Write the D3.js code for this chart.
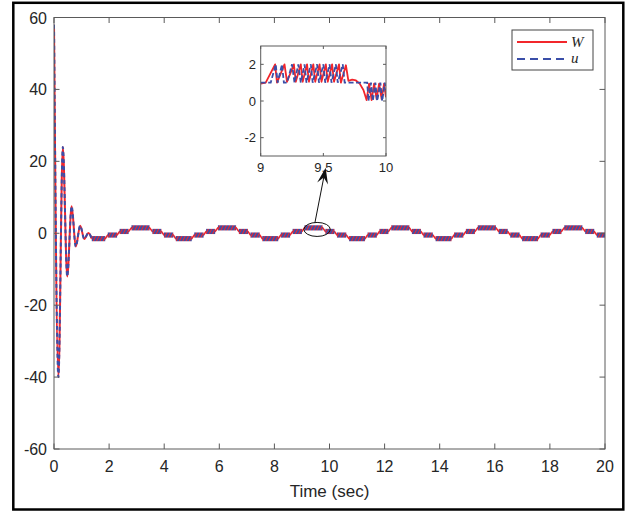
<!DOCTYPE html>
<html>
<head>
<meta charset="utf-8">
<script src="https://cdn.jsdelivr.net/npm/d3@7"></script>
<style>
  body { margin: 0; background: #fff; }
  svg { display: block; }
  .tick-label { font-family: "Liberation Sans", Arial, sans-serif; fill: #262626; }
  .legend-text { font-family: "Liberation Serif", "Times New Roman", serif; font-style: italic; fill: #262626; }
</style>
</head>
<body>
<svg id="chart" width="636" height="512"></svg>
<script>
// --- data ---
// start-up transient (sec, value)
const transT = [0, 0.16, 0.32, 0.48, 0.64, 0.79, 0.95, 1.10, 1.25, 1.37];
const transY = [58, -40, 24, -12, 7.5, -3.7, 2.1, -1.6, 0.1, -1.5];

// chattering bands: signal switches between level and level+1 from start to end
const bandStart = [1.37, 1.95, 2.38, 2.81, 3.57, 3.99, 4.42, 5.09, 5.52, 5.95, 6.71, 7.13,
                   7.56, 8.23, 8.66, 9.09, 9.85, 10.27, 10.71, 11.38, 11.81, 12.24, 12.99, 13.41,
                   13.85, 14.52, 14.95, 15.38, 16.14, 16.56, 16.99, 17.66, 18.09, 18.52, 19.28, 19.70];
const bandEnd   = [1.86, 2.29, 2.71, 3.47, 3.90, 4.33, 5.00, 5.43, 5.85, 6.61, 7.04, 7.47,
                   8.14, 8.57, 9.00, 9.75, 10.18, 10.61, 11.29, 11.72, 12.14, 12.90, 13.32, 13.75,
                   14.43, 14.86, 15.28, 16.04, 16.47, 16.90, 17.57, 18.00, 18.42, 19.18, 19.61, 20.0];
const bandLevel = [-2, -1, 0, 1, 0, -1, -2, -1, 0, 1, 0, -1,
                   -2, -1, 0, 1, 0, -1, -2, -1, 0, 1, 0, -1,
                   -2, -1, 0, 1, 0, -1, -2, -1, 0, 1, 0, -1];

// zoomed window 9..10 s
const zoomWT = [9.00, 9.04, 9.115, 9.13, 9.19, 9.21, 9.265, 9.28, 9.32, 9.335, 9.37, 9.385, 9.42, 9.435,
                9.47, 9.485, 9.52, 9.535, 9.57, 9.585, 9.625, 9.64, 9.68, 9.70, 9.73, 9.76, 9.79, 9.82,
                9.845, 9.865, 9.885, 9.905, 9.925, 9.945, 9.965, 9.985, 10.0];
const zoomWY = [0.95, 1.0, 2.0, 1.0, 2.0, 1.05, 2.0, 1.05, 2.0, 1.05, 2.0, 1.05, 2.0, 1.05,
                2.0, 1.05, 2.0, 1.05, 2.0, 1.05, 2.0, 1.0, 1.95, 1.1, 1.17, 1.12, 0.95, 0.6,
                0.05, 0.95, 0.05, 0.95, 0.1, 0.95, 0.1, 0.95, 0.2];
const zoomUT = [9.00, 9.08, 9.12, 9.135, 9.17, 9.185, 9.21, 9.25, 9.27, 9.30, 9.32, 9.35, 9.365, 9.40,
                9.415, 9.45, 9.465, 9.50, 9.515, 9.55, 9.565, 9.60, 9.615, 9.655, 9.67, 9.85, 9.86,
                9.88, 9.895, 9.915, 9.93, 9.955, 9.97, 9.99, 10.0];
const zoomUY = [1.0, 1.0, 2.0, 1.0, 2.0, 1.0, 1.0, 2.0, 1.0, 2.0, 1.0, 2.0, 1.0, 2.0,
                1.0, 2.0, 1.0, 2.0, 1.0, 2.0, 1.0, 2.0, 1.0, 2.0, 1.0, 1.0, 0.0,
                1.0, 0.0, 1.0, 0.0, 1.0, 0.0, 1.0, 0.6];

const xTicks = [0, 2, 4, 6, 8, 10, 12, 14, 16, 18, 20];
const yTicks = [-60, -40, -20, 0, 20, 40, 60];
const zoomXTicks = [9, 9.5, 10];
const zoomYTicks = [-2, 0, 2];
const seriesNames = ["W", "u"];

// ellipse round the zoomed spot, and the arrow to the inset (data units)
const markCenter = [9.55, 1.06], markRadius = [0.48, 1.95];
const arrowFrom = [9.47, 2.9], arrowTo = [9.86, 18.2];

const RED = "#f2262b", BLUE = "#3a4ea8", AXIS = "#5a5a5a";

const svg = d3.select("#chart");
const x = d3.scaleLinear().domain([0, 20]).range([54, 605]);
const y = d3.scaleLinear().domain([-60, 60]).range([449, 17.5]);

const defs = svg.append("defs");
defs.append("clipPath").attr("id", "plotClip")
  .append("rect").attr("x", 54).attr("y", 17.5).attr("width", 551).attr("height", 431.5);
const pat = defs.append("pattern").attr("id", "chatter")
  .attr("width", 3).attr("height", 3).attr("patternUnits", "userSpaceOnUse")
  .attr("patternTransform", "rotate(25)");
pat.append("rect").attr("width", 3).attr("height", 3).attr("fill", BLUE);
pat.append("rect").attr("width", 1.1).attr("height", 3).attr("fill", RED);

// outer frame
svg.append("rect").attr("x", 13.3).attr("y", 2.8).attr("width", 610).attr("height", 506.7)
  .attr("fill", "none").attr("stroke", "#000").attr("stroke-width", 2.5);

const plot = svg.append("g").attr("clip-path", "url(#plotClip)");

// staircase through band centres
const bands = bandStart.map((s, i) => ({ s, e: bandEnd[i], l: bandLevel[i] }));
const stairPts = [[transT[transT.length - 1], transY[transY.length - 1]]];
bands.forEach(b => { stairPts.push([b.s, b.l + 0.5]); stairPts.push([b.e, b.l + 0.5]); });
const lineLin = d3.line().x(d => x(d[0])).y(d => y(d[1]));
plot.append("path").attr("d", lineLin(stairPts)).attr("fill", "none")
  .attr("stroke", RED).attr("stroke-width", 1.6);

plot.selectAll("rect.band").data(bands).join("rect").attr("class", "band")
  .attr("x", d => x(d.s)).attr("width", d => x(d.e) - x(d.s))
  .attr("y", d => y(d.l + 1) - 0.8).attr("height", d => y(d.l) - y(d.l + 1) + 1.6)
  .attr("fill", "url(#chatter)");

// transient
const trans = transT.map((t, i) => [t, transY[i]]);
const lineSmooth = d3.line().x(d => x(d[0])).y(d => y(d[1])).curve(d3.curveMonotoneX);
plot.append("path").attr("d", lineSmooth(trans)).attr("fill", "none")
  .attr("stroke", RED).attr("stroke-width", 2);
plot.append("path").attr("d", lineSmooth(trans)).attr("fill", "none")
  .attr("stroke", BLUE).attr("stroke-width", 2).attr("stroke-dasharray", "4,3");

// axes box and ticks (inward, mirrored)
const axisG = svg.append("g").attr("stroke", AXIS).attr("stroke-width", 1);
axisG.append("rect").attr("x", 54).attr("y", 17.5).attr("width", 551).attr("height", 431.5).attr("fill", "none");
xTicks.forEach(t => {
  axisG.append("line").attr("x1", x(t)).attr("x2", x(t)).attr("y1", 449).attr("y2", 443.5);
  axisG.append("line").attr("x1", x(t)).attr("x2", x(t)).attr("y1", 17.5).attr("y2", 23);
});
yTicks.forEach(t => {
  axisG.append("line").attr("x1", 54).attr("x2", 59.5).attr("y1", y(t)).attr("y2", y(t));
  axisG.append("line").attr("x1", 605).attr("x2", 599.5).attr("y1", y(t)).attr("y2", y(t));
});
svg.selectAll("text.xl").data(xTicks).join("text").attr("class", "tick-label")
  .attr("x", d => x(d)).attr("y", 472).attr("text-anchor", "middle").attr("font-size", 16).text(d => d);
svg.selectAll("text.yl").data(yTicks).join("text").attr("class", "tick-label")
  .attr("x", 47).attr("y", d => y(d) + 6).attr("text-anchor", "end").attr("font-size", 16).text(d => d);
svg.append("text").attr("class", "tick-label").attr("x", x(10)).attr("y", 497)
  .attr("text-anchor", "middle").attr("font-size", 17).text("Time (sec)");

// ellipse and arrow
svg.append("ellipse").attr("cx", x(markCenter[0])).attr("cy", y(markCenter[1]))
  .attr("rx", x(markCenter[0] + markRadius[0]) - x(markCenter[0]))
  .attr("ry", y(markCenter[1]) - y(markCenter[1] + markRadius[1]))
  .attr("fill", "none").attr("stroke", "#111").attr("stroke-width", 1);
const ax0 = x(arrowFrom[0]), ay0 = y(arrowFrom[1]), ax1 = x(arrowTo[0]), ay1 = y(arrowTo[1]);
const len = Math.hypot(ax1 - ax0, ay1 - ay0), ux = (ax1 - ax0) / len, uy = (ay1 - ay0) / len;
const px = -uy, py = ux;
svg.append("line").attr("x1", ax0).attr("y1", ay0).attr("x2", ax1 - ux * 8).attr("y2", ay1 - uy * 8)
  .attr("stroke", "#111").attr("stroke-width", 1);
const head = [[ax1, ay1],
  [ax1 - ux * 16 + px * 5.5, ay1 - uy * 16 + py * 5.5],
  [ax1 - ux * 10, ay1 - uy * 10],
  [ax1 - ux * 16 - px * 5.5, ay1 - uy * 16 - py * 5.5]];
svg.append("path").attr("d", "M" + head.join("L") + "Z").attr("fill", "#111");

// inset
const xi = d3.scaleLinear().domain([9, 10]).range([260.7, 386]);
const yi = d3.scaleLinear().domain([-3, 3]).range([156, 46]);
defs.append("clipPath").attr("id", "insetClip")
  .append("rect").attr("x", 260.7).attr("y", 46).attr("width", 125.3).attr("height", 110);
svg.append("rect").attr("x", 260.7).attr("y", 46).attr("width", 125.3).attr("height", 110).attr("fill", "#fff");
const inset = svg.append("g").attr("clip-path", "url(#insetClip)");
const lineI = d3.line().x(d => xi(d[0])).y(d => yi(d[1]));
inset.append("path").attr("d", lineI(zoomWT.map((t, i) => [t, zoomWY[i]]))).attr("fill", "none")
  .attr("stroke", RED).attr("stroke-width", 1.8).attr("stroke-linejoin", "round");
inset.append("path").attr("d", lineI(zoomUT.map((t, i) => [t, zoomUY[i]]))).attr("fill", "none")
  .attr("stroke", BLUE).attr("stroke-width", 1.8).attr("stroke-dasharray", "5,2.5");
const insetAxis = svg.append("g").attr("stroke", AXIS).attr("stroke-width", 1);
insetAxis.append("rect").attr("x", 260.7).attr("y", 46).attr("width", 125.3).attr("height", 110).attr("fill", "none");
zoomXTicks.forEach(t => {
  insetAxis.append("line").attr("x1", xi(t)).attr("x2", xi(t)).attr("y1", 156).attr("y2", 153);
  insetAxis.append("line").attr("x1", xi(t)).attr("x2", xi(t)).attr("y1", 46).attr("y2", 49);
});
zoomYTicks.forEach(t => {
  insetAxis.append("line").attr("x1", 260.7).attr("x2", 263.7).attr("y1", yi(t)).attr("y2", yi(t));
  insetAxis.append("line").attr("x1", 386).attr("x2", 383).attr("y1", yi(t)).attr("y2", yi(t));
});
svg.selectAll("text.xil").data(zoomXTicks).join("text").attr("class", "tick-label")
  .attr("x", d => xi(d)).attr("y", 172).attr("text-anchor", "middle").attr("font-size", 13).text(d => d);
svg.selectAll("text.yil").data(zoomYTicks).join("text").attr("class", "tick-label")
  .attr("x", 256).attr("y", d => yi(d) + 4.5).attr("text-anchor", "end").attr("font-size", 13).text(d => d);

// legend
const lg = svg.append("g");
lg.append("rect").attr("x", 512).attr("y", 30).attr("width", 81).attr("height", 40)
  .attr("fill", "#fff").attr("stroke", "#444").attr("stroke-width", 1);
lg.append("line").attr("x1", 517).attr("x2", 567).attr("y1", 42).attr("y2", 42)
  .attr("stroke", RED).attr("stroke-width", 1.8);
lg.append("line").attr("x1", 517).attr("x2", 567).attr("y1", 59).attr("y2", 59)
  .attr("stroke", BLUE).attr("stroke-width", 1.8).attr("stroke-dasharray", "8,5");
lg.selectAll("text").data(seriesNames).join("text").attr("class", "legend-text")
  .attr("x", 571).attr("y", (d, i) => 47 + i * 16).attr("font-size", 15).text(d => d);
</script>
</body>
</html>
